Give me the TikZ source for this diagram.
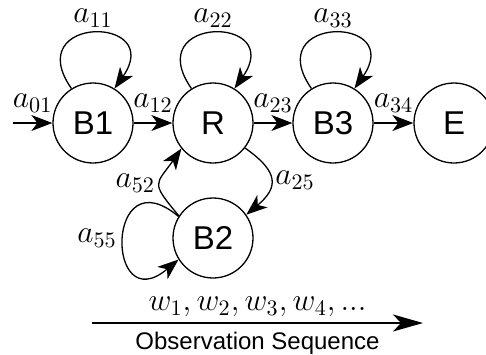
\documentclass[tikz,border=0pt]{standalone}
\usepackage{fix-cm}
\usepackage{fontspec}
\setsansfont{Liberation Sans}
\usetikzlibrary{arrows.meta}
\begin{document}
\begin{tikzpicture}[x=0.5pt,y=0.5pt,
  state/.style={circle,draw,line width=0.65pt,minimum size=40pt,inner sep=0pt,font=\fontsize{16.5}{19}\sffamily},
  lab/.style={inner sep=1pt,font=\fontsize{15.8}{19}\selectfont},
  arr/.style={line width=0.65pt,-{Stealth[length=10.5pt,width=8pt,inset=3pt]}},
  bigarr/.style={line width=1pt,-{Stealth[length=15pt,width=8.5pt,inset=4pt]}}]
\useasboundingbox (0,0) rectangle (486,-354);
\node[state] (B1) at (93,-123) {B1};
\node[state] (R) at (213,-123) {R};
\node[state] (B3) at (333,-123) {B3};
\node[state] (E) at (454,-123) {E};
\node[state] (B2) at (213,-238) {B2};
\coordinate (in) at (13,-123);
\draw[arr] (in) -- (B1) node[lab,midway,above=4pt] (l01) {$a_{01}$};
\draw[arr] (B1) -- (R) node[lab,midway,above=4pt] (l12) {$a_{12}$};
\draw[arr] (R) -- (B3) node[lab,midway,above=4pt] (l23) {$a_{23}$};
\draw[arr] (B3) -- (E) node[lab,midway,above=4pt] (l34) {$a_{34}$};
\draw[arr] (B1.122) .. controls +(125:90) and +(55:90) .. (B1.58) node[lab,pos=0.5,above=1.5pt] (l11) {$a_{11}$};
\draw[arr] (R.122) .. controls +(125:90) and +(55:90) .. (R.58) node[lab,pos=0.5,above=1.5pt] (l22) {$a_{22}$};
\draw[arr] (B3.122) .. controls +(125:90) and +(55:90) .. (B3.58) node[lab,pos=0.5,above=1.5pt] (l33) {$a_{33}$};
\draw[arr] (R.-38) .. controls +(-35:42) and +(40:42) .. (B2.35) node[lab,pos=0.5,right=1pt] (l25) {$a_{25}$};
\draw[arr] (B2.147) .. controls +(130:45) and +(235:45) .. (R.219) node[lab,pos=0.5,left=1pt] (l52) {$a_{52}$};
\draw[arr] (B2.148) .. controls +(140:96) and +(220:96) .. (B2.212) node[lab,pos=0.5,left=2pt] (l55) {$a_{55}$};
\coordinate (s0) at (92,-323);
\coordinate (s1) at (423,-323);
\draw[bigarr] (s0) -- (s1)
  node[lab,midway,above=1.5pt] (ws) {$w_1, w_2, w_3, w_4, ...$}
  node[midway,below=3pt,inner sep=1pt,font=\fontsize{12}{14}\sffamily] (obs) {Observation Sequence};
\end{tikzpicture}
\end{document}
